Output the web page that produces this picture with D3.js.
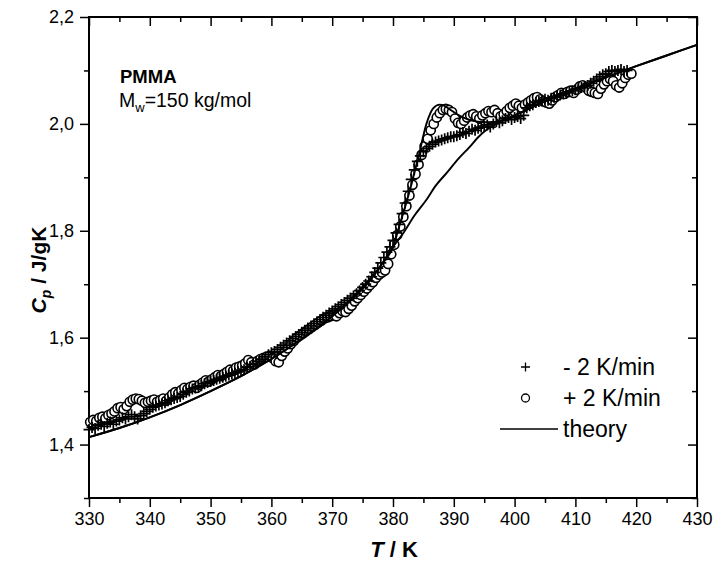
<!DOCTYPE html>
<html>
<head>
<meta charset="utf-8">
<script src="https://cdn.jsdelivr.net/npm/d3@7"></script>
<style>
  body { margin: 0; background: #fff; }
  svg { display: block; font-family: "Liberation Sans", Arial, sans-serif; }
  .tick text { font-size: 18px; fill: #000; }
  .tick line { stroke: #000; stroke-width: 1.5; }
</style>
</head>
<body>
<div id="chart"></div>
<script>
// heating run, +2 K/min (open circles)
let heatT = [
  330.2, 330.7, 331.2, 331.7, 332.2, 332.7, 333.2, 333.7, 334.2, 334.7,
  335.2, 335.7, 336.2, 336.7, 337.2, 337.7, 338.2, 338.7, 339.2, 339.7,
  340.2, 340.7, 341.2, 341.7, 342.2, 342.7, 343.2, 343.7, 344.2, 344.7,
  345.2, 345.7, 346.2, 346.7, 347.2, 347.7, 348.2, 348.7, 349.2, 349.7,
  350.2, 350.7, 351.2, 351.7, 352.2, 352.7, 353.2, 353.7, 354.2, 354.7,
  355.2, 355.7, 356.2, 356.7, 357.2, 357.7, 358.2, 358.7, 359.2, 359.7,
  360.2, 360.7, 361.2, 361.7, 362.2, 362.7, 363.2, 363.7, 364.2, 364.7,
  365.2, 365.7, 366.2, 366.7, 367.2, 367.7, 368.2, 368.7, 369.2, 369.7,
  370.2, 370.7, 371.2, 371.7, 372.2, 372.7, 373.2, 373.7, 374.2, 374.7,
  375.2, 375.7, 376.2, 376.7, 377.2, 377.7, 378.2, 378.7, 379.2, 379.7,
  380.2, 380.7, 381.2, 381.7, 382.2, 382.7, 383.2, 383.7, 384.2, 384.7,
  385.2, 385.7, 386.2, 386.7, 387.2, 387.7, 388.2, 388.7, 389.2, 389.7,
  390.2, 390.7, 391.2, 391.7, 392.2, 392.7, 393.2, 393.7, 394.2, 394.7,
  395.2, 395.7, 396.2, 396.7, 397.2, 397.7, 398.2, 398.7, 399.2, 399.7,
  400.2, 400.7, 401.2, 401.7, 402.2, 402.7, 403.2, 403.7, 404.2, 404.7,
  405.2, 405.7, 406.2, 406.7, 407.2, 407.7, 408.2, 408.7, 409.2, 409.7,
  410.2, 410.7, 411.2, 411.7, 412.2, 412.7, 413.2, 413.7, 414.2, 414.7,
  415.2, 415.7, 416.2, 416.7, 417.2, 417.7, 418.2, 418.7, 419.2
]
let heatCp = [
  1.442, 1.446, 1.444, 1.450, 1.452, 1.449, 1.455, 1.458, 1.462, 1.468,
  1.470, 1.466, 1.472, 1.480, 1.484, 1.486, 1.485, 1.482, 1.478, 1.480,
  1.482, 1.484, 1.480, 1.483, 1.486, 1.482, 1.488, 1.494, 1.498, 1.496,
  1.502, 1.506, 1.504, 1.508, 1.510, 1.506, 1.512, 1.516, 1.520, 1.518,
  1.522, 1.526, 1.530, 1.528, 1.532, 1.536, 1.540, 1.538, 1.544, 1.546,
  1.548, 1.552, 1.558, 1.554, 1.550, 1.556, 1.560, 1.562, 1.564, 1.566,
  1.562, 1.556, 1.554, 1.566, 1.574, 1.580, 1.588, 1.594, 1.600, 1.604,
  1.608, 1.612, 1.616, 1.620, 1.624, 1.628, 1.632, 1.636, 1.638, 1.640,
  1.642, 1.640, 1.646, 1.650, 1.648, 1.654, 1.660, 1.668, 1.674, 1.680,
  1.686, 1.692, 1.698, 1.704, 1.712, 1.718, 1.722, 1.726, 1.738, 1.756,
  1.774, 1.792, 1.808, 1.826, 1.846, 1.866, 1.886, 1.906, 1.924, 1.942,
  1.958, 1.972, 1.988, 2.000, 2.012, 2.020, 2.026, 2.028, 2.026, 2.022,
  2.010, 2.002, 2.000, 2.006, 2.012, 2.016, 2.018, 2.014, 2.010, 2.016,
  2.020, 2.024, 2.022, 2.026, 2.020, 2.014, 2.018, 2.024, 2.030, 2.034,
  2.038, 2.034, 2.030, 2.036, 2.040, 2.044, 2.048, 2.050, 2.046, 2.042,
  2.040, 2.038, 2.044, 2.050, 2.054, 2.058, 2.056, 2.060, 2.062, 2.058,
  2.064, 2.070, 2.072, 2.068, 2.062, 2.060, 2.058, 2.056, 2.066, 2.074,
  2.080, 2.084, 2.080, 2.072, 2.068, 2.076, 2.086, 2.092, 2.094
]

// cooling run, -2 K/min (plus signs)
let coolT = [
  330.0, 330.5, 331.0, 331.5, 332.0, 332.5, 333.0, 333.5, 334.0, 334.5,
  335.0, 335.5, 336.0, 336.5, 337.0, 337.5, 338.0, 338.5, 339.0, 339.5,
  340.0, 340.5, 341.0, 341.5, 342.0, 342.5, 343.0, 343.5, 344.0, 344.5,
  345.0, 345.5, 346.0, 346.5, 347.0, 347.5, 348.0, 348.5, 349.0, 349.5,
  350.0, 350.5, 351.0, 351.5, 352.0, 352.5, 353.0, 353.5, 354.0, 354.5,
  355.0, 355.5, 356.0, 356.5, 357.0, 357.5, 358.0, 358.5, 359.0, 359.5,
  360.0, 360.5, 361.0, 361.5, 362.0, 362.5, 363.0, 363.5, 364.0, 364.5,
  365.0, 365.5, 366.0, 366.5, 367.0, 367.5, 368.0, 368.5, 369.0, 369.5,
  370.0, 370.5, 371.0, 371.5, 372.0, 372.5, 373.0, 373.5, 374.0, 374.5,
  375.0, 375.5, 376.0, 376.5, 377.0, 377.5, 378.0, 378.5, 379.0, 379.5,
  380.0, 380.5, 381.0, 381.5, 382.0, 382.5, 383.0, 383.5, 384.0, 384.5,
  385.0, 385.5, 386.0, 386.5, 387.0, 387.5, 388.0, 388.5, 389.0, 389.5,
  390.0, 390.5, 391.0, 391.5, 392.0, 392.5, 393.0, 393.5, 394.0, 394.5,
  395.0, 395.5, 396.0, 396.5, 397.0, 397.5, 398.0, 398.5, 399.0, 399.5,
  400.0, 400.5, 401.0, 401.5, 402.0, 402.5, 403.0, 403.5, 404.0, 404.5,
  405.0, 405.5, 406.0, 406.5, 407.0, 407.5, 408.0, 408.5, 409.0, 409.5,
  410.0, 410.5, 411.0, 411.5, 412.0, 412.5, 413.0, 413.5, 414.0, 414.5,
  415.0, 415.5, 416.0, 416.5, 417.0, 417.5, 418.0, 418.5
]
let coolCp = [
  1.428, 1.432, 1.430, 1.436, 1.438, 1.434, 1.440, 1.442, 1.438, 1.444,
  1.446, 1.450, 1.448, 1.452, 1.456, 1.452, 1.448, 1.454, 1.458, 1.462,
  1.466, 1.470, 1.472, 1.474, 1.476, 1.478, 1.482, 1.484, 1.486, 1.488,
  1.490, 1.494, 1.498, 1.500, 1.504, 1.506, 1.508, 1.510, 1.514, 1.516,
  1.518, 1.520, 1.522, 1.524, 1.526, 1.528, 1.530, 1.532, 1.534, 1.536,
  1.538, 1.540, 1.544, 1.546, 1.550, 1.552, 1.556, 1.560, 1.564, 1.568,
  1.572, 1.574, 1.578, 1.582, 1.586, 1.590, 1.594, 1.598, 1.602, 1.606,
  1.610, 1.614, 1.618, 1.622, 1.626, 1.630, 1.634, 1.638, 1.642, 1.646,
  1.650, 1.654, 1.658, 1.662, 1.666, 1.670, 1.674, 1.678, 1.682, 1.688,
  1.694, 1.700, 1.706, 1.714, 1.722, 1.730, 1.740, 1.750, 1.760, 1.770,
  1.782, 1.796, 1.812, 1.832, 1.852, 1.874, 1.896, 1.914, 1.930, 1.940,
  1.948, 1.954, 1.958, 1.962, 1.966, 1.968, 1.970, 1.972, 1.974, 1.976,
  1.976, 1.978, 1.980, 1.984, 1.982, 1.986, 1.990, 1.988, 1.992, 1.994,
  1.996, 1.998, 1.994, 2.000, 2.004, 2.002, 2.006, 2.010, 2.012, 2.008,
  2.012, 2.014, 2.010, 2.016, 2.030, 2.034, 2.036, 2.040, 2.042, 2.044,
  2.046, 2.044, 2.048, 2.050, 2.052, 2.054, 2.056, 2.058, 2.060, 2.062,
  2.064, 2.066, 2.068, 2.070, 2.072, 2.076, 2.080, 2.084, 2.088, 2.092,
  2.094, 2.098, 2.100, 2.098, 2.100, 2.102, 2.098, 2.100
]

// theory: common glass part, two branches through Tg, common melt part
let theoryLowT = [330, 335, 340, 345, 350, 355, 360, 365, 370, 373, 376, 378, 380]
let theoryLowCp = [1.414, 1.431, 1.451, 1.474, 1.500, 1.528, 1.560, 1.598, 1.640, 1.670, 1.705, 1.735, 1.770]
let theoryHeatT = [381.2, 382, 382.8, 383.5, 384.2, 385.5, 386.6, 387.7, 388.4, 389.1, 390, 391, 392, 393, 394, 395, 396, 397]
let theoryHeatCp = [1.815, 1.845, 1.877, 1.908, 1.939, 2.000, 2.029, 2.036, 2.034, 2.029, 2.022, 2.015, 2.010, 2.006, 2.004, 2.003, 2.003, 2.004]
let theoryCoolT = [381.7, 383.5, 385.5, 387, 388.8, 390.7, 392.7, 394, 395.4, 397]
let theoryCoolCp = [1.796, 1.828, 1.858, 1.884, 1.908, 1.934, 1.958, 1.975, 1.989, 2.000]
let theoryHighT = [398, 400, 405, 410, 415, 420, 425, 430]
let theoryHighCp = [2.006, 2.016, 2.042, 2.066, 2.087, 2.108, 2.128, 2.148]

let xTicks = [330, 340, 350, 360, 370, 380, 390, 400, 410, 420, 430]
let xMinorTicks = [335, 345, 355, 365, 375, 385, 395, 405, 415, 425]
let yTicks = [1.4, 1.6, 1.8, 2.0, 2.2]
let yMinorTicks = [1.3, 1.5, 1.7, 1.9, 2.1]

let width = 715
let height = 563
let plotLeft = 89, plotRight = 697, plotTop = 17, plotBottom = 498

let svg = d3.select("#chart")
    .append("svg")
    .attr("width", width)
    .attr("height", height)

let xScale = d3.scaleLinear().domain([330, 430]).range([plotLeft, plotRight])
let yScale = d3.scaleLinear().domain([1.3, 2.2]).range([plotBottom, plotTop])

let fmt = d => d3.format(".1f")(d).replace(".", ",")

function addAxis(axis, transform){
    let g = svg.append("g").attr("transform", transform).call(axis)
    g.select(".domain").remove()
    return g
}

// bottom
addAxis(d3.axisBottom(xScale).tickValues(xTicks).tickSize(9).tickPadding(5).tickFormat(d => d), `translate(0,${plotBottom})`)
addAxis(d3.axisBottom(xScale).tickValues(xMinorTicks).tickSize(5).tickFormat(""), `translate(0,${plotBottom})`)
// top (inward)
addAxis(d3.axisTop(xScale).tickValues(xTicks).tickSize(-9).tickFormat(""), `translate(0,${plotTop})`)
addAxis(d3.axisTop(xScale).tickValues(xMinorTicks).tickSize(-5).tickFormat(""), `translate(0,${plotTop})`)
// left
addAxis(d3.axisLeft(yScale).tickValues(yTicks).tickSize(9).tickPadding(6).tickFormat(fmt), `translate(${plotLeft},0)`)
addAxis(d3.axisLeft(yScale).tickValues(yMinorTicks).tickSize(5).tickFormat(""), `translate(${plotLeft},0)`)
// right (inward)
addAxis(d3.axisRight(yScale).tickValues(yTicks).tickSize(-9).tickFormat(""), `translate(${plotRight},0)`)
addAxis(d3.axisRight(yScale).tickValues(yMinorTicks).tickSize(-5).tickFormat(""), `translate(${plotRight},0)`)

svg.append("rect")
    .attr("x", plotLeft).attr("y", plotTop)
    .attr("width", plotRight - plotLeft).attr("height", plotBottom - plotTop)
    .attr("fill", "none").attr("stroke", "#000").attr("stroke-width", 2)

let plot = svg.append("g")

let heatData = heatT.map((t, i) => ({t: t, cp: heatCp[i]}))
let coolData = coolT.map((t, i) => ({t: t, cp: coolCp[i]}))

// open circles, drawn first
plot.selectAll("circle.heat")
    .data(heatData)
    .enter()
    .append("circle")
    .attr("class", "heat")
    .attr("cx", d => xScale(d.t))
    .attr("cy", d => yScale(d.cp))
    .attr("r", 4.6)
    .attr("fill", "#fff")
    .attr("stroke", "#000")
    .attr("stroke-width", 1.6)

// plus signs
let plusSize = 5.5
plot.selectAll("path.cool")
    .data(coolData)
    .enter()
    .append("path")
    .attr("class", "cool")
    .attr("d", d => {
        let cx = xScale(d.t), cy = yScale(d.cp)
        return `M${cx - plusSize},${cy}H${cx + plusSize}M${cx},${cy - plusSize}V${cy + plusSize}`
    })
    .attr("stroke", "#000")
    .attr("stroke-width", 1.7)

// theory curves
let line = d3.line()
    .x(d => xScale(d[0]))
    .y(d => yScale(d[1]))
    .curve(d3.curveMonotoneX)

function zipPts(ts, cps){ return ts.map((t, i) => [t, cps[i]]) }

let lowPts = zipPts(theoryLowT, theoryLowCp)
let highPts = zipPts(theoryHighT, theoryHighCp)
let heatLine = lowPts.concat(zipPts(theoryHeatT, theoryHeatCp), highPts)
let coolLine = lowPts.concat(zipPts(theoryCoolT, theoryCoolCp), highPts)

plot.selectAll("path.theory")
    .data([heatLine, coolLine])
    .enter()
    .append("path")
    .attr("class", "theory")
    .attr("d", line)
    .attr("fill", "none")
    .attr("stroke", "#000")
    .attr("stroke-width", 1.9)

// annotation
svg.append("text")
    .attr("x", 120).attr("y", 83)
    .attr("font-size", 18.5).attr("font-weight", "bold")
    .text("PMMA")

let mw = svg.append("text")
    .attr("x", 119).attr("y", 107)
    .attr("font-size", 19.5)
mw.append("tspan").text("M")
mw.append("tspan").attr("font-size", 13).attr("dy", 5).text("w")
mw.append("tspan").attr("dy", -5).text("=150 kg/mol")

// legend
let legend = svg.append("g").attr("font-size", 23)
legend.append("path")
    .attr("d", "M521,367H530M525.5,362.5V371.5")
    .attr("stroke", "#000").attr("stroke-width", 1.3)
legend.append("text").attr("x", 563).attr("y", 375).text("- 2 K/min")
legend.append("circle")
    .attr("cx", 525.5).attr("cy", 398).attr("r", 4)
    .attr("fill", "#fff").attr("stroke", "#000").attr("stroke-width", 1.3)
legend.append("text").attr("x", 563).attr("y", 406).text("+ 2 K/min")
legend.append("line")
    .attr("x1", 500).attr("x2", 558).attr("y1", 429).attr("y2", 429)
    .attr("stroke", "#000").attr("stroke-width", 1.5)
legend.append("text").attr("x", 563).attr("y", 437).text("theory")

// axis titles
let xTitle = svg.append("text")
    .attr("x", 394).attr("y", 557)
    .attr("text-anchor", "middle")
    .attr("font-size", 22).attr("font-weight", "bold")
xTitle.append("tspan").attr("font-style", "italic").text("T")
xTitle.append("tspan").text(" / K")

let yTitle = svg.append("text")
    .attr("transform", "translate(46,270) rotate(-90)")
    .attr("text-anchor", "middle")
    .attr("font-size", 21).attr("font-weight", "bold")
yTitle.append("tspan").attr("font-style", "italic").text("C")
yTitle.append("tspan").attr("font-style", "italic").attr("font-size", 14).attr("dy", 5).text("p")
yTitle.append("tspan").attr("dy", -5).text(" / J/gK")
</script>
</body>
</html>
